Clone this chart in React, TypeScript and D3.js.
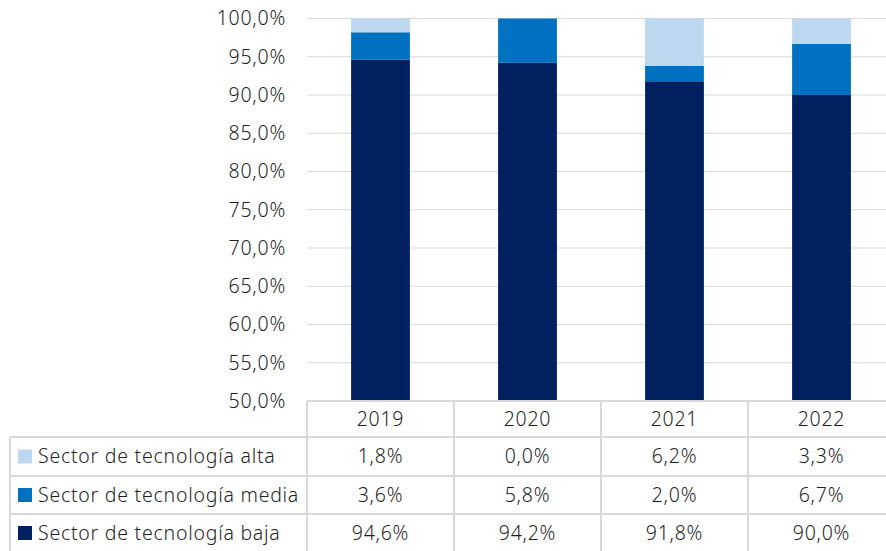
import React from "react";
import * as d3 from "d3";

const years = ["2019", "2020", "2021", "2022"];
const seriesNames = ["Sector de tecnología alta", "Sector de tecnología media", "Sector de tecnología baja"];
const alta = [1.8, 0.0, 6.2, 3.3];
const media = [3.6, 5.8, 2.0, 6.7];
const baja = [94.6, 94.2, 91.8, 90.0];
const colors = ["#BDD7EE", "#0070C0", "#002060"];
const yTicks = [50, 55, 60, 65, 70, 75, 80, 85, 90, 95, 100];

const W = 886, H = 551;
const FONT = "'Noto Sans', sans-serif";
const TXT = "#1f1f1f";
const GRID = "#D9D9D9";
const FS = 19.5;
const LS = 0.75;

export default function App() {
  const left = 307, right = 895, top = 18.5, bottom = 401;
  const tableLeft = 10;
  const rowLines = [401, 437, 476, 514, 552];
  const x = d3.scaleBand<string>().domain(years).range([left, right]).paddingInner(0.6).paddingOuter(0.3);
  const band = d3.scaleBand<string>().domain(years).range([left, right]);
  const y = d3.scaleLinear().domain([50, 100]).range([bottom, top]);

  const rows = years.map((yr, i) => ({ year: yr, baja: baja[i], media: media[i], alta: alta[i] }));
  const stack = d3.stack<any>().keys(["baja", "media", "alta"])(rows as any);
  const keyColor: Record<string, string> = { baja: colors[2], media: colors[1], alta: colors[0] };
  const fmt = (v: number) => v.toFixed(1).replace(".", ",") + "%";
  const tableData = [alta, media, baja];
  const tp = { fontSize: FS, fill: TXT, fontWeight: 300, letterSpacing: LS } as any;

  return (
    <svg width={W} height={H} style={{ position: "absolute", left: 0, top: 0 }} fontFamily={FONT}>
      <rect width={W} height={H} fill="#fff" />
      {yTicks.map((t) => (
        <g key={t}>
          {t > 50 && <line x1={left} x2={right} y1={y(t)} y2={y(t)} stroke={GRID} strokeWidth={1} />}
          <text x={286} y={y(t)} dy="0.35em" textAnchor="end" {...tp}>{fmt(t)}</text>
        </g>
      ))}
      <g>
        {stack.map((s) => (
          <g key={s.key} fill={keyColor[s.key]}>
            {s.map((d, i) => {
              const y0 = Math.max(d[0], 50);
              const y1 = d[1];
              if (y1 <= y0) return null;
              return <rect key={i} x={x(years[i])!} width={x.bandwidth()} y={y(y1)} height={y(y0) - y(y1)} />;
            })}
          </g>
        ))}
      </g>
      <g stroke={GRID} strokeWidth={2}>
        <line x1={left} x2={right} y1={rowLines[0]} y2={rowLines[0]} />
        {rowLines.slice(1).map((r) => (
          <line key={r} x1={tableLeft} x2={right} y1={r} y2={r} />
        ))}
        <line x1={tableLeft} x2={tableLeft} y1={rowLines[1]} y2={rowLines[4]} />
        {years.map((yr) => (
          <line key={yr} x1={band(yr)!} x2={band(yr)!} y1={rowLines[0]} y2={rowLines[4]} />
        ))}
        <line x1={right} x2={right} y1={rowLines[0]} y2={rowLines[4]} />
      </g>
      {years.map((yr) => (
        <text key={yr} x={band(yr)! + band.bandwidth() / 2} y={(rowLines[0] + rowLines[1]) / 2} dy="0.35em" textAnchor="middle" {...tp}>{yr}</text>
      ))}
      {seriesNames.map((name, r) => {
        const cy = (rowLines[r + 1] + rowLines[r + 2]) / 2;
        return (
          <g key={name}>
            <rect x={18} y={cy - 7} width={14} height={14} fill={colors[r]} />
            <text x={38} y={cy} dy="0.35em" {...tp}>{name}</text>
            {years.map((yr, i) => (
              <text key={yr} x={band(yr)! + band.bandwidth() / 2} y={cy} dy="0.35em" textAnchor="middle" {...tp}>{fmt(tableData[r][i])}</text>
            ))}
          </g>
        );
      })}
    </svg>
  );
}
